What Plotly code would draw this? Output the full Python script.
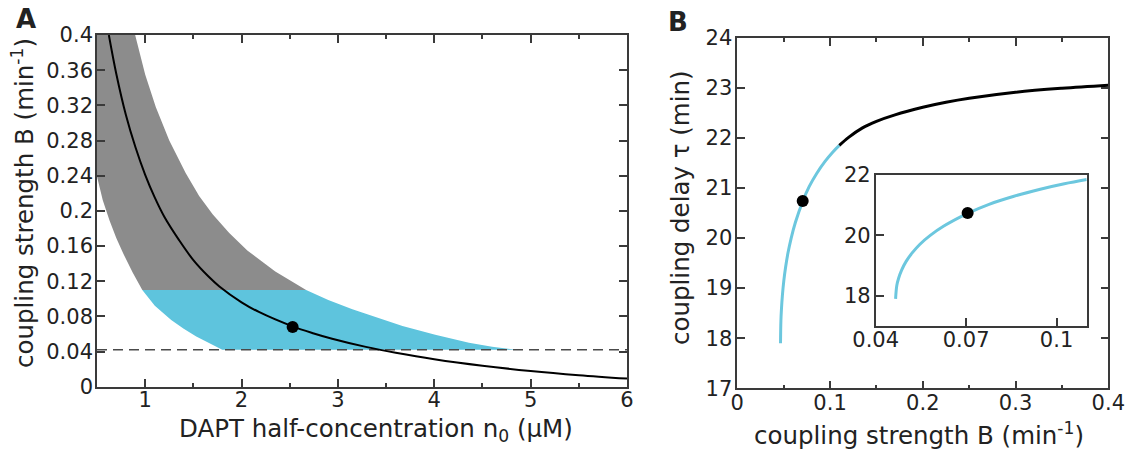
import plotly.graph_objects as go

# ---------------- Panel A data ----------------
# black curve: coupling strength B vs DAPT half-concentration n0
curve_n0 = [0.623, 0.7, 0.8, 0.9, 1.0, 1.1, 1.2, 1.35, 1.5, 1.66, 1.77, 2.0, 2.18, 2.53,
            2.75, 2.94, 3.29, 3.6, 4.0, 4.5, 5.0, 5.5, 6.0]
curve_B = [0.4, 0.356, 0.309, 0.272, 0.241, 0.215, 0.193, 0.167, 0.144, 0.125, 0.114, 0.096, 0.085, 0.0686,
           0.0606, 0.0546, 0.0453, 0.0386, 0.0312, 0.0238, 0.0179, 0.0131, 0.0092]

# upper and lower boundaries of the band
upper_n0 = [0.896, 1.0, 1.11, 1.25, 1.42, 1.56, 1.70, 1.87, 2.06, 2.35, 2.67,
            2.9, 3.15, 3.4, 3.67, 4.01, 4.36, 4.6, 4.86]
upper_B = [0.4, 0.355, 0.318, 0.28, 0.243, 0.217, 0.196, 0.175, 0.155, 0.131, 0.11,
           0.0985, 0.088, 0.079, 0.069, 0.059, 0.050, 0.0455, 0.042]
lower_n0 = [0.5, 0.56, 0.63, 0.7, 0.77, 0.87, 0.97, 1.1, 1.27, 1.4, 1.53, 1.65, 1.8]
lower_B = [0.239, 0.212, 0.189, 0.169, 0.152, 0.13, 0.11, 0.092, 0.076, 0.066, 0.057, 0.050, 0.042]

B_split = 0.11      # gray above, cyan below
B_min = 0.042       # dashed threshold
point_A = (2.53, 0.068)

A_xrange = [0.5, 6]
A_yrange = [0, 0.4]

# ---------------- Panel B data ----------------
cyan_B = [0.0466, 0.047, 0.0476, 0.0486, 0.0501, 0.0521, 0.0546, 0.0581, 0.0626, 0.0705, 0.0776,
          0.0856, 0.0946, 0.1026, 0.110]
cyan_tau = [17.9, 18.34, 18.58, 18.85, 19.14, 19.42, 19.70, 20.0, 20.31, 20.73, 21.03,
            21.29, 21.53, 21.71, 21.85]
black_B = [0.110, 0.12, 0.135, 0.15, 0.17, 0.2, 0.225, 0.25, 0.3, 0.35, 0.4]
black_tau = [21.85, 22.01, 22.2, 22.33, 22.46, 22.61, 22.71, 22.79, 22.91, 22.99, 23.05]
point_B = (0.0705, 20.74)

B_xrange = [0, 0.4]
B_yrange = [17, 24]
inset_xrange = [0.04, 0.11]
inset_yrange = [17, 22]
inset_xticks = [0.04, 0.07, 0.1]
inset_yticks = [18, 20, 22]

GRAY = "#8c8c8c"
CYAN = "#5ec4dd"
CYAN_LINE = "#6cc7de"
AXC = "#3a3a3a"
TXT = "#222"
FONT = "DejaVu Sans"

fig = go.Figure()

# ----- gray region (B >= B_split) -----
gx = [A_xrange[0]] + [n for n, b in zip(upper_n0, upper_B) if b >= B_split]
gy = [A_yrange[1]] + [b for b in upper_B if b >= B_split]
lo = [(n, b) for n, b in zip(lower_n0, lower_B) if b >= B_split][::-1]
gx += [p[0] for p in lo]
gy += [p[1] for p in lo]
fig.add_trace(go.Scatter(x=gx, y=gy, fill="toself", fillcolor=GRAY, mode="lines",
                         line=dict(width=0, color=GRAY), hoverinfo="skip", showlegend=False,
                         xaxis="x", yaxis="y"))
# ----- cyan region (B_min <= B <= B_split) -----
cx = [n for n, b in zip(upper_n0, upper_B) if b <= B_split]
cy = [b for b in upper_B if b <= B_split]
lo2 = [(n, b) for n, b in zip(lower_n0, lower_B) if b <= B_split][::-1]
cx += [p[0] for p in lo2]
cy += [p[1] for p in lo2]
fig.add_trace(go.Scatter(x=cx, y=cy, fill="toself", fillcolor=CYAN, mode="lines",
                         line=dict(width=0, color=CYAN), hoverinfo="skip", showlegend=False,
                         xaxis="x", yaxis="y"))
# dashed threshold line
fig.add_trace(go.Scatter(x=A_xrange, y=[B_min, B_min], mode="lines",
                         line=dict(color="#4a4a4a", width=1.6, dash="10px,6px"),
                         showlegend=False, xaxis="x", yaxis="y"))
# black curve
fig.add_trace(go.Scatter(x=curve_n0, y=curve_B, mode="lines", line=dict(color="black", width=2, shape="spline"),
                         showlegend=False, xaxis="x", yaxis="y"))
fig.add_trace(go.Scatter(x=[point_A[0]], y=[point_A[1]], mode="markers",
                         marker=dict(color="black", size=12), showlegend=False, xaxis="x", yaxis="y"))

# ----- Panel B -----
fig.add_trace(go.Scatter(x=cyan_B, y=cyan_tau, mode="lines", line=dict(color=CYAN_LINE, width=3, shape="spline"),
                         showlegend=False, xaxis="x2", yaxis="y2"))
fig.add_trace(go.Scatter(x=black_B, y=black_tau, mode="lines", line=dict(color="black", width=3, shape="spline"),
                         showlegend=False, xaxis="x2", yaxis="y2"))
fig.add_trace(go.Scatter(x=[point_B[0]], y=[point_B[1]], mode="markers",
                         marker=dict(color="black", size=12), showlegend=False, xaxis="x2", yaxis="y2"))
# inset
fig.add_trace(go.Scatter(x=cyan_B, y=cyan_tau, mode="lines", line=dict(color=CYAN_LINE, width=3, shape="spline"),
                         showlegend=False, xaxis="x3", yaxis="y3"))
fig.add_trace(go.Scatter(x=[point_B[0]], y=[point_B[1]], mode="markers",
                         marker=dict(color="black", size=12), showlegend=False, xaxis="x3", yaxis="y3"))

W, H = 1136, 455
tickfont = dict(family=FONT, size=21, color=TXT)
titlefont = dict(family=FONT, size=24.5, color=TXT)

base = dict(showline=True, linecolor=AXC, linewidth=1.6, ticks="inside", ticklen=8, tickwidth=1.5,
            tickcolor=AXC, showgrid=False, zeroline=False, tickfont=tickfont, automargin=False)

fig.update_layout(
    width=W, height=H, margin=dict(l=0, r=0, t=0, b=0, autoexpand=False),
    paper_bgcolor="white", plot_bgcolor="white",
    xaxis=dict(**base, domain=[97 / W, 627 / W], range=A_xrange, dtick=1, tick0=0, mirror="ticks",
               ticklabelstandoff=-7,
               minor=dict(dtick=0.5, tick0=0, ticks="inside", ticklen=4, tickcolor=AXC, tickwidth=1.5),
               anchor="y"),
    yaxis=dict(**base, domain=[1 - 386.7 / H, 1 - 35 / H], range=A_yrange, dtick=0.04, tick0=0,
               mirror="ticks", ticklabelstandoff=-2, anchor="x"),
    xaxis2=dict(**base, domain=[737.3 / W, 1108.3 / W], range=B_xrange, dtick=0.1, tick0=0, mirror="ticks",
                ticklabelstandoff=-5,
                minor=dict(dtick=0.05, tick0=0, ticks="inside", ticklen=4, tickcolor=AXC, tickwidth=1.5),
                anchor="y2"),
    yaxis2=dict(**base, domain=[1 - 388.3 / H, 1 - 37.7 / H], range=B_yrange, dtick=1, tick0=0,
                mirror="ticks", ticklabelstandoff=-1, anchor="x2"),
    xaxis3=dict(**base, domain=[875.7 / W, 1086.7 / W], range=inset_xrange, tickmode="array",
                tickvals=inset_xticks, mirror=True, ticklabelstandoff=-6, anchor="y3"),
    yaxis3=dict(**base, domain=[1 - 326 / H, 1 - 175 / H], range=inset_yrange, tickmode="array",
                tickvals=inset_yticks, mirror=True, ticklabelstandoff=-1, anchor="x3"),
    annotations=[
        # axis titles
        dict(text="DAPT half-concentration n<sub>0</sub> (µM)", x=376 / W, y=1 - 430 / H,
             xref="paper", yref="paper", showarrow=False, font=titlefont,
             xanchor="center", yanchor="middle"),
        dict(text="coupling strength B (min<sup>-1</sup>)", x=23 / W, y=1 - 203 / H, textangle=-90,
             xref="paper", yref="paper", showarrow=False, font=titlefont,
             xanchor="center", yanchor="middle"),
        dict(text="coupling strength B (min<sup>-1</sup>)", x=919 / W, y=1 - 434 / H,
             xref="paper", yref="paper", showarrow=False, font=titlefont,
             xanchor="center", yanchor="middle"),
        dict(text="coupling delay τ (min)", x=681 / W, y=1 - 208 / H, textangle=-90,
             xref="paper", yref="paper", showarrow=False, font=titlefont,
             xanchor="center", yanchor="middle"),
        # panel labels
        dict(text="<b>A</b>", x=26 / W, y=1 - 19 / H, xref="paper", yref="paper", showarrow=False,
             font=dict(family=FONT, size=26, color=TXT), xanchor="center", yanchor="middle"),
        dict(text="<b>B</b>", x=678 / W, y=1 - 22 / H, xref="paper", yref="paper", showarrow=False,
             font=dict(family=FONT, size=26, color=TXT), xanchor="center", yanchor="middle"),
    ],
)

fig.write_html("out.html")
